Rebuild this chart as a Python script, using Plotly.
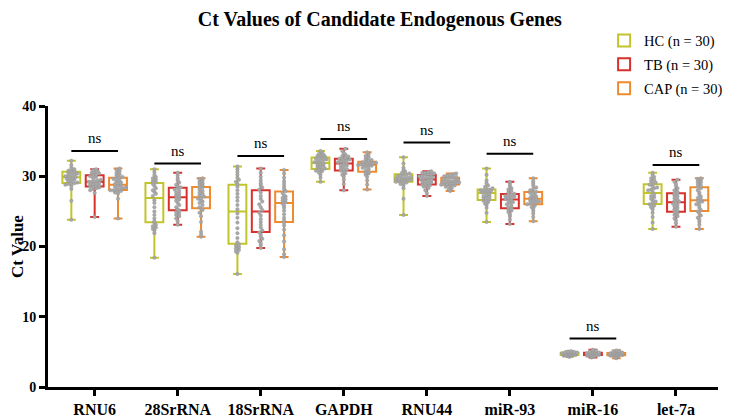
import numpy as np
import plotly.graph_objects as go

genes = ["RNU6", "28SrRNA", "18SrRNA", "GAPDH", "RNU44", "miR-93", "miR-16", "let-7a"]
groups = ["HC (n = 30)", "TB (n = 30)", "CAP (n = 30)"]

# Ct values per gene, per group (30 samples each)
HC = {
    "RNU6": [23.8, 26.5, 28.2, 28.6, 28.8, 28.9, 29.0, 29.0, 29.1, 29.3, 29.4, 29.5, 29.6, 29.7, 29.8, 29.9, 30.0, 30.1, 30.2, 30.3, 30.4, 30.5, 30.7, 30.7, 30.8, 30.9, 31.0, 31.2, 31.6, 32.2],
    "28SrRNA": [18.4, 21.9, 22.3, 22.5, 22.7, 22.9, 23.1, 23.4, 23.6, 24.0, 24.5, 25.0, 25.6, 26.2, 26.6, 27.2, 27.5, 27.8, 28.0, 28.3, 28.6, 28.9, 29.1, 29.3, 29.5, 29.7, 29.9, 30.2, 30.6, 31.0],
    "18SrRNA": [16.1, 19.1, 19.3, 19.5, 19.7, 19.9, 20.1, 20.3, 20.6, 21.2, 21.9, 22.6, 23.4, 24.1, 24.7, 25.3, 25.9, 26.5, 27.0, 27.5, 28.0, 28.5, 28.9, 29.2, 29.5, 29.8, 30.2, 30.6, 31.0, 31.4],
    "GAPDH": [29.2, 29.8, 30.2, 30.5, 30.7, 30.8, 30.9, 31.0, 31.1, 31.3, 31.4, 31.5, 31.6, 31.7, 31.8, 32.0, 32.1, 32.2, 32.3, 32.4, 32.5, 32.6, 32.7, 32.8, 32.9, 33.0, 33.1, 33.2, 33.4, 33.6],
    "RNU44": [24.5, 26.8, 28.3, 28.7, 28.9, 29.0, 29.1, 29.2, 29.3, 29.4, 29.4, 29.5, 29.5, 29.6, 29.6, 29.7, 29.8, 29.8, 29.9, 30.0, 30.1, 30.2, 30.3, 30.4, 30.5, 30.7, 30.9, 31.2, 31.8, 32.7],
    "miR-93": [23.5, 24.8, 25.5, 25.9, 26.1, 26.3, 26.5, 26.6, 26.7, 26.9, 27.0, 27.1, 27.2, 27.4, 27.5, 27.7, 27.8, 27.8, 27.9, 28.0, 28.0, 28.1, 28.1, 28.3, 28.5, 28.7, 29.0, 29.4, 30.2, 31.1],
    "miR-16": [4.3, 4.35, 4.4, 4.45, 4.5, 4.5, 4.55, 4.55, 4.6, 4.6, 4.6, 4.65, 4.65, 4.7, 4.7, 4.7, 4.75, 4.75, 4.8, 4.8, 4.85, 4.85, 4.9, 4.9, 4.95, 4.95, 5.0, 5.0, 5.05, 5.1],
    "let-7a": [22.5, 23.4, 24.2, 24.8, 25.3, 25.6, 25.8, 26.0, 26.2, 26.4, 26.6, 26.8, 27.0, 27.2, 27.4, 27.8, 28.0, 28.1, 28.3, 28.4, 28.6, 28.8, 28.9, 29.1, 29.3, 29.5, 29.7, 29.9, 30.2, 30.5],
}
TB = {
    "RNU6": [24.2, 27.6, 28.0, 28.2, 28.3, 28.4, 28.5, 28.5, 28.6, 28.7, 28.8, 28.9, 29.0, 29.1, 29.2, 29.2, 29.3, 29.4, 29.5, 29.7, 29.9, 30.0, 30.2, 30.2, 30.4, 30.5, 30.6, 30.7, 30.9, 31.0],
    "28SrRNA": [23.1, 23.6, 24.0, 24.3, 24.5, 24.7, 24.9, 25.1, 25.3, 25.6, 25.9, 26.2, 26.5, 26.7, 26.9, 27.1, 27.3, 27.5, 27.7, 27.9, 28.1, 28.3, 28.4, 28.6, 28.8, 29.1, 29.4, 29.7, 30.1, 30.5],
    "18SrRNA": [19.8, 20.2, 20.5, 20.8, 21.1, 21.4, 21.7, 22.0, 22.3, 22.7, 23.1, 23.5, 23.9, 24.4, 24.8, 25.2, 25.6, 26.0, 26.4, 26.8, 27.2, 27.7, 28.1, 28.4, 28.7, 29.0, 29.4, 29.9, 30.5, 31.1],
    "GAPDH": [28.0, 28.9, 29.5, 29.9, 30.2, 30.4, 30.6, 30.8, 30.9, 31.0, 31.2, 31.3, 31.5, 31.6, 31.7, 31.9, 32.0, 32.1, 32.2, 32.3, 32.4, 32.5, 32.5, 32.6, 32.8, 32.9, 33.1, 33.3, 33.6, 33.9],
    "RNU44": [27.2, 27.6, 28.0, 28.3, 28.5, 28.6, 28.7, 28.8, 28.9, 29.0, 29.1, 29.2, 29.3, 29.4, 29.5, 29.6, 29.7, 29.8, 29.9, 29.9, 30.0, 30.1, 30.2, 30.3, 30.3, 30.4, 30.5, 30.5, 30.6, 30.7],
    "miR-93": [23.2, 23.8, 24.3, 24.6, 24.9, 25.1, 25.3, 25.4, 25.6, 25.8, 26.0, 26.2, 26.3, 26.5, 26.6, 26.8, 26.9, 27.0, 27.1, 27.2, 27.3, 27.4, 27.5, 27.7, 27.9, 28.1, 28.3, 28.6, 28.9, 29.2],
    "miR-16": [4.2, 4.3, 4.35, 4.4, 4.45, 4.5, 4.5, 4.55, 4.55, 4.6, 4.6, 4.65, 4.65, 4.7, 4.7, 4.7, 4.75, 4.75, 4.8, 4.8, 4.85, 4.85, 4.9, 4.95, 5.0, 5.05, 5.1, 5.15, 5.2, 5.3],
    "let-7a": [22.8, 23.3, 23.7, 24.0, 24.3, 24.5, 24.7, 24.9, 25.1, 25.3, 25.5, 25.7, 25.9, 26.1, 26.2, 26.4, 26.5, 26.7, 26.9, 27.1, 27.3, 27.5, 27.6, 27.8, 28.0, 28.3, 28.6, 28.9, 29.2, 29.5],
}
CAP = {
    "RNU6": [24.0, 26.8, 27.5, 27.7, 27.8, 27.9, 28.0, 28.0, 28.1, 28.2, 28.3, 28.4, 28.5, 28.6, 28.7, 28.9, 29.0, 29.1, 29.3, 29.4, 29.6, 29.7, 29.8, 29.9, 30.1, 30.3, 30.5, 30.7, 30.9, 31.1],
    "28SrRNA": [21.4, 21.7, 22.1, 23.5, 24.3, 24.8, 25.2, 25.4, 25.6, 25.9, 26.2, 26.4, 26.6, 26.8, 26.9, 27.1, 27.3, 27.5, 27.7, 27.9, 28.1, 28.4, 28.5, 28.7, 28.9, 29.0, 29.2, 29.4, 29.6, 29.7],
    "18SrRNA": [18.5, 18.9, 19.6, 20.7, 21.6, 22.4, 23.0, 23.4, 23.7, 24.1, 24.6, 25.1, 25.5, 25.8, 26.1, 26.3, 26.5, 26.7, 26.9, 27.1, 27.3, 27.6, 27.9, 28.2, 28.5, 28.9, 29.3, 29.8, 30.4, 30.9],
    "GAPDH": [28.1, 28.8, 29.4, 29.9, 30.2, 30.4, 30.5, 30.6, 30.8, 31.0, 31.2, 31.3, 31.4, 31.5, 31.6, 31.7, 31.7, 31.8, 31.8, 31.9, 31.9, 32.0, 32.1, 32.2, 32.3, 32.5, 32.7, 32.9, 33.1, 33.4],
    "RNU44": [27.9, 28.1, 28.3, 28.5, 28.6, 28.7, 28.7, 28.8, 28.9, 28.9, 29.0, 29.0, 29.1, 29.1, 29.2, 29.2, 29.3, 29.3, 29.4, 29.5, 29.6, 29.7, 29.8, 29.9, 29.9, 30.0, 30.1, 30.2, 30.3, 30.4],
    "miR-93": [23.6, 24.2, 24.7, 25.1, 25.4, 25.6, 25.8, 26.0, 26.1, 26.2, 26.3, 26.4, 26.5, 26.6, 26.7, 26.9, 27.0, 27.1, 27.2, 27.4, 27.6, 27.7, 27.8, 28.0, 28.2, 28.4, 28.7, 29.0, 29.3, 29.7],
    "miR-16": [4.1, 4.2, 4.3, 4.35, 4.4, 4.45, 4.5, 4.5, 4.55, 4.55, 4.6, 4.6, 4.6, 4.65, 4.65, 4.7, 4.7, 4.75, 4.75, 4.8, 4.8, 4.85, 4.85, 4.9, 4.95, 5.0, 5.05, 5.1, 5.15, 5.2],
    "let-7a": [22.5, 23.1, 23.5, 23.8, 24.1, 24.4, 24.7, 25.0, 25.2, 25.5, 25.8, 26.0, 26.2, 26.4, 26.5, 26.7, 26.9, 27.1, 27.4, 27.7, 28.0, 28.3, 28.5, 28.7, 28.9, 29.1, 29.3, 29.4, 29.6, 29.7],
}
# height of the "ns" significance bars
sig_bar_y = [33.6, 31.8, 32.9, 35.3, 34.8, 33.2, 6.9, 31.6]
sig_labels = ["ns"] * 8

group_data = [HC, TB, CAP]
colors = ["#c2c42c", "#d8302c", "#ee8a30"]
offsets = [-0.281, 0.0, 0.281]
box_w = 0.215
SERIF = "Liberation Serif"

fig = go.Figure()

for gi, (gname, gdata, col, off) in enumerate(zip(groups, group_data, colors, offsets)):
    xs, q1s, meds, q3s, los, his = [], [], [], [], [], []
    for i, g in enumerate(genes):
        v = np.array(gdata[g])
        xs.append(i + off)
        q1s.append(float(np.percentile(v, 25)))
        meds.append(float(np.median(v)))
        q3s.append(float(np.percentile(v, 75)))
        los.append(float(v.min()))
        his.append(float(v.max()))
    fig.add_trace(go.Box(
        name=gname, x=xs, q1=q1s, median=meds, q3=q3s,
        lowerfence=los, upperfence=his, width=box_w,
        line=dict(color=col, width=2), fillcolor="rgba(255,255,255,1)",
        boxpoints=False, whiskerwidth=0.5,
        legendgroup=gname, showlegend=True, hoverinfo="skip",
    ))

# beeswarm-like point placement
for gi, (gdata, off) in enumerate(zip(group_data, offsets)):
    px, py = [], []
    for i, g in enumerate(genes):
        v = np.sort(np.array(gdata[g]))
        binsize = 0.4 if g != "miR-16" else 0.12
        bins = {}
        for val in v:
            b = int(np.floor(val / binsize))
            bins.setdefault(b, []).append(val)
        for b, vals in bins.items():
            n = len(vals)
            for k, val in enumerate(vals):
                dx = (k - (n - 1) / 2) * 0.036
                px.append(i + off + dx)
                py.append(val)
    fig.add_trace(go.Scatter(
        x=px, y=py, mode="markers",
        marker=dict(color="#a8a8a8", size=3.5, line=dict(width=0.4, color="#929292")),
        showlegend=False, hoverinfo="skip",
    ))

# significance bars
for i, yb in enumerate(sig_bar_y):
    fig.add_trace(go.Scatter(
        x=[i + offsets[0], i + offsets[2]], y=[yb, yb], mode="lines",
        line=dict(color="black", width=2), showlegend=False, hoverinfo="skip",
    ))
    fig.add_annotation(x=i, y=yb, text=sig_labels[i], showarrow=False,
                       yanchor="bottom", yshift=3,
                       font=dict(family=SERIF, size=15, color="black"))

# the page body adds an 8px margin, so the figure is sized 732x410
fig.update_layout(
    width=732, height=410,
    margin=dict(l=40, r=16, t=98, b=31),
    paper_bgcolor="white", plot_bgcolor="white",
    boxmode="overlay",
    title=dict(text="<b>Ct Values of Candidate Endogenous Genes</b>",
               x=0.508, xanchor="center", y=0.974, yanchor="middle",
               font=dict(family=SERIF, size=20, color="black")),
    legend=dict(x=0.83, xanchor="left", y=1.29, yanchor="top",
                font=dict(family=SERIF, size=14.5, color="black"),
                tracegroupgap=2, bgcolor="rgba(0,0,0,0)"),
    font=dict(family=SERIF, color="black"),
)
fig.update_xaxes(
    range=[-0.562, 7.506], tickmode="array", tickvals=list(range(len(genes))),
    ticktext=["<b>%s</b>" % g for g in genes],
    tickfont=dict(family=SERIF, size=16, color="black"),
    showline=True, linecolor="black", linewidth=3,
    ticks="outside", ticklen=6, tickwidth=3, tickcolor="black",
    showgrid=False, zeroline=False, automargin=False,
)
fig.update_yaxes(
    range=[0, 40], tickvals=[0, 10, 20, 30, 40],
    ticktext=["<b>%d</b>" % t for t in [0, 10, 20, 30, 40]],
    tickfont=dict(family=SERIF, size=14, color="black"),
    showline=True, linecolor="black", linewidth=3,
    ticks="outside", ticklen=6, tickwidth=3, tickcolor="black",
    showgrid=False, zeroline=False, automargin=False,
    title=dict(text="<b>Ct Value</b>", font=dict(family=SERIF, size=17, color="black"), standoff=8),
)

fig.write_html("out.html")
